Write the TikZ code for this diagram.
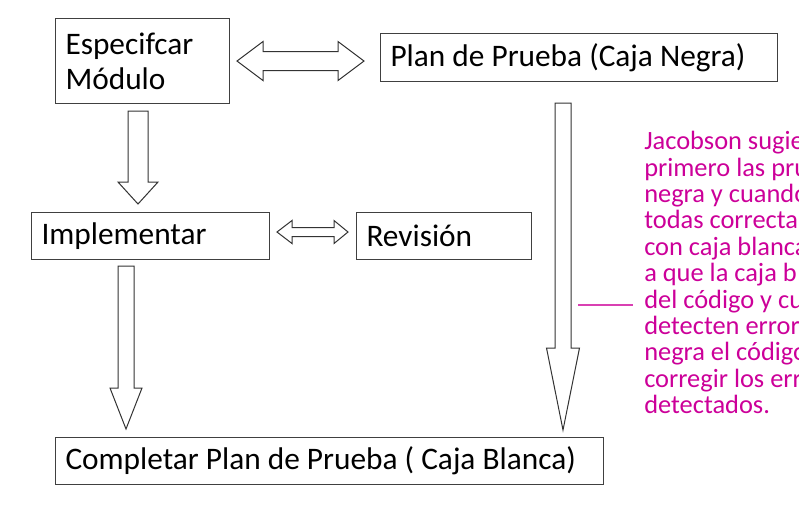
\documentclass[tikz,border=0pt]{standalone}
\usepackage{fontspec}
\setmainfont{Carlito}
\definecolor{notecolor}{RGB}{204,0,153}
% one line of box text, with the font's own word spaces
\newcommand{\lbl}[1]{\mbox{\spaceskip=0pt\xspaceskip=0pt\relax #1}}
% block arrow pointing down: centre x, top y, head y, tip y, half shaft, half head
\newcommand{\blockdown}[6]{%
  \draw[blockline] (#1-#5,#2) -- (#1+#5,#2) -- (#1+#5,#3) -- (#1+#6,#3)
    -- (#1,#4) -- (#1-#6,#3) -- (#1-#5,#3) -- cycle;}
% block arrow with two heads: y, left tip, left head end, right head end, right tip, half shaft, half head
\newcommand{\blockboth}[7]{%
  \draw[blockline] (#2,#1) -- (#3,#1-#7) -- (#3,#1-#6) -- (#4,#1-#6) -- (#4,#1-#7)
    -- (#5,#1) -- (#4,#1+#7) -- (#4,#1+#6) -- (#3,#1+#6) -- (#3,#1+#7) -- cycle;}
\begin{document}
\begin{tikzpicture}[x=0.75pt,y=-0.75pt,
    box/.style={draw=black!75, line width=0.75pt, anchor=north west, inner xsep=7.5pt,
      align=left, font=\fontsize{23.5}{26.25}\selectfont},
    blockline/.style={draw=black!80, line width=0.75pt, fill=white},
    note/.style={anchor=north west, inner sep=0pt, text=notecolor, align=left,
      font=\fontsize{19.8}{19.8}\selectfont},
    noteline/.style={color=notecolor!75, line width=0.9pt}]
  \useasboundingbox (0,0) rectangle (799,512);
  \clip (0,0) rectangle (799,512);
  \node[box, text width=115.5pt, minimum height=63.75pt] (espec) at (55,18) {\lbl{Especifcar}\\\lbl{Módulo}};
  \node[box, text width=282.75pt, minimum height=36pt] (plan) at (380,33) {\lbl{Plan de Prueba (Caja Negra)}};
  \node[box, text width=163.5pt, minimum height=35.25pt] (impl) at (31,212) {\lbl{Implementar}};
  \node[box, text width=116.25pt, minimum height=35.25pt] (rev) at (356,212) {\lbl{Revisión}};
  \node[box, text width=396pt, minimum height=35.25pt] (compl) at (55,437) {\lbl{Completar Plan de Prueba ( Caja Blanca)}};
  % arrows
  \blockboth{61}{237}{263}{338}{364}{9.5}{19.5}
  \blockboth{232}{277}{292}{334}{348}{4.5}{11.5}
  \blockdown{138}{111}{182}{204}{10}{20}
  \blockdown{126}{266}{388}{429}{8}{16}
  \blockdown{563}{103}{348}{430}{8}{16.5}
  % comment
  \node[note] (jacob) at (644,131) {Jacobson sugie\\primero las pru\\negra y cuando\\todas correcta\\con caja blanca\\a que la caja b\\del código y cu\\detecten error\\negra el código\\corregir los err\\detectados.};
  \coordinate (lead) at (578,305);
  \draw[noteline] (lead) -- ++(55,0);
\end{tikzpicture}
\end{document}
